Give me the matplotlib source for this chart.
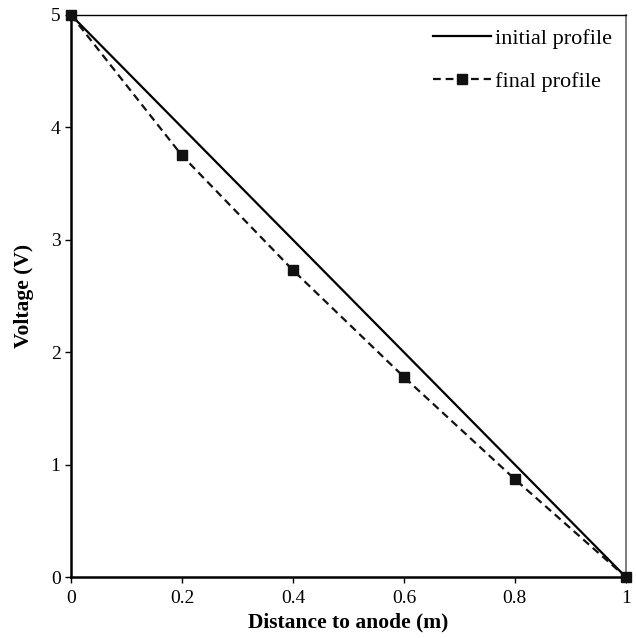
import numpy as np
import matplotlib
matplotlib.use("Agg")
import matplotlib.pyplot as plt

plt.rcParams['font.family'] = ['Liberation Serif', 'DejaVu Serif']

# data
x_init = [0, 1]
v_init = [5, 0]
x_final = [0, 0.2, 0.4, 0.6, 0.8, 1]
v_final = [5, 3.75, 2.73, 1.78, 0.87, 0]
xticks = [0, 0.2, 0.4, 0.6, 0.8, 1]
xticklabels = ["0", "0.2", "0.4", "0.6", "0.8", "1"]
yticks = [0, 1, 2, 3, 4, 5]

fig = plt.figure(figsize=(6.36, 6.38), dpi=100)
ax = fig.add_axes([0.1116, 0.0956, 0.8724, 0.8809])

ax.plot(x_init, v_init, color="black", lw=1.6, label="initial profile")
ax.plot(x_final, v_final, color="#111111", lw=1.6, ls=(0, (3.5, 2.2)),
        marker="s", ms=7, label="final profile", clip_on=False, zorder=5)

ax.set_xlim(0, 1)
ax.set_ylim(0, 5)
ax.set_xticks(xticks)
ax.set_xticklabels(xticklabels)
ax.set_yticks(yticks)
ax.tick_params(axis="both", direction="out", length=4, width=1, labelsize=14)
ax.tick_params(axis="x", pad=5)

for side in ["left", "bottom"]:
    ax.spines[side].set_linewidth(1.8)
    ax.spines[side].set_color("black")
ax.spines["top"].set_linewidth(1.0)
ax.spines["top"].set_color("black")
ax.spines["right"].set_linewidth(1.2)
ax.spines["right"].set_color("#666666")

ax.set_xlabel("Distance to anode (m)", fontsize=15.5, fontweight="bold", labelpad=4)
ax.set_ylabel("Voltage (V)", fontsize=15.5, fontweight="bold", labelpad=12)

ax.legend(loc="upper right", frameon=False, fontsize=16, handlelength=2.6,
          labelspacing=1.0, handletextpad=0.2, borderaxespad=0.2,
          borderpad=0.4)

fig.savefig("out.png", dpi=100)
